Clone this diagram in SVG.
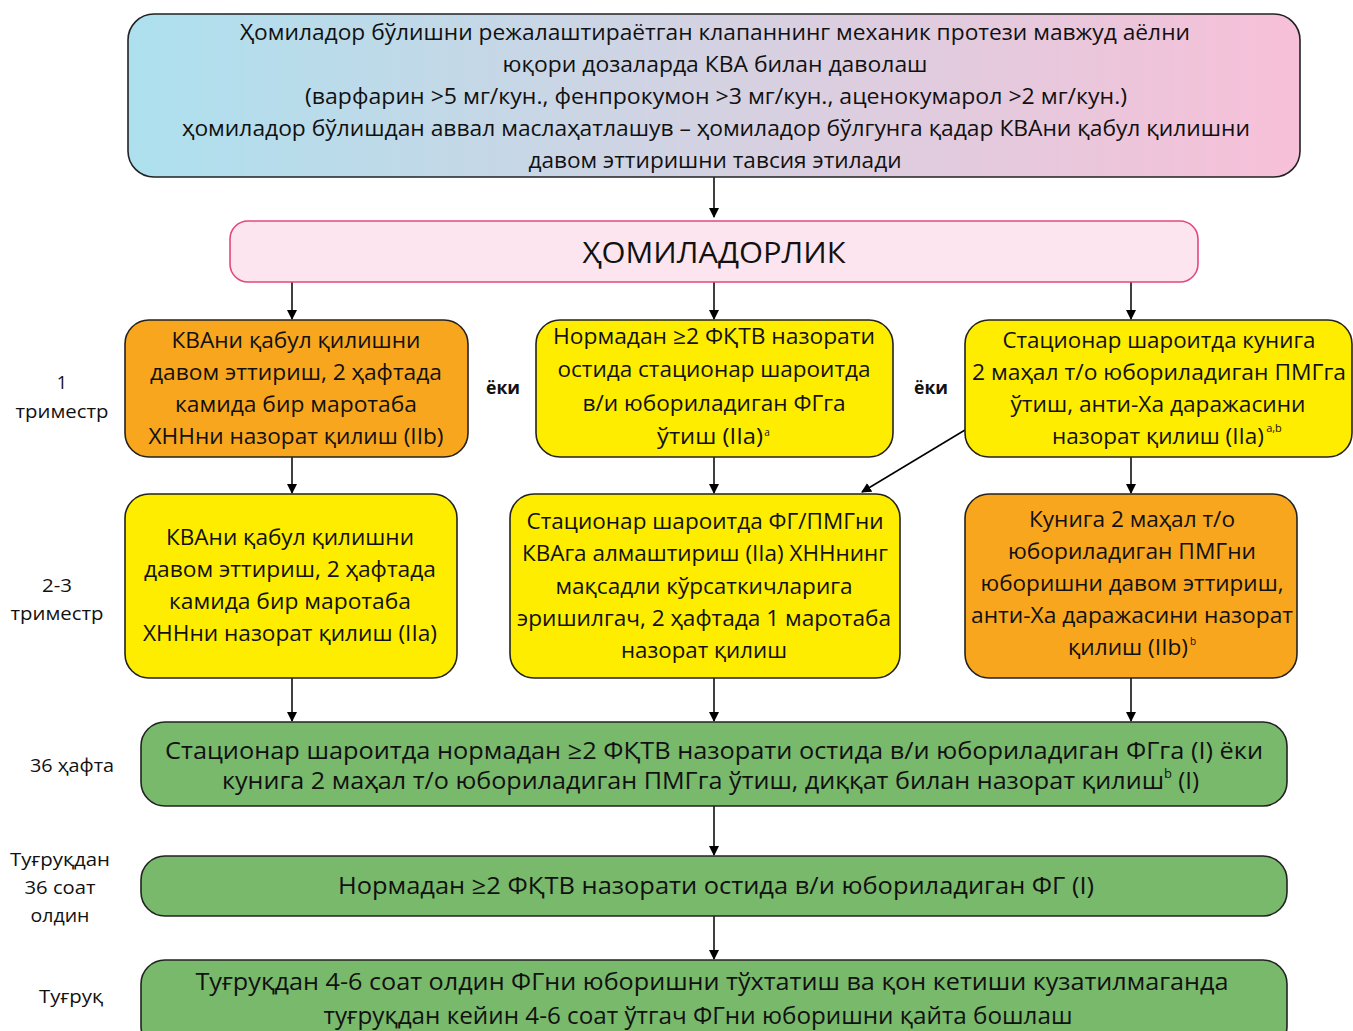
<svg xmlns="http://www.w3.org/2000/svg" width="1353" height="1031" viewBox="0 0 1353 1031">
<defs>
<linearGradient id="g1" x1="0" y1="0" x2="1" y2="0">
<stop offset="0" stop-color="#ade0ee"/>
<stop offset="0.5" stop-color="#d4d2e2"/>
<stop offset="1" stop-color="#f7c0d8"/>
</linearGradient>
<marker id="ah" markerWidth="10" markerHeight="10" refX="9" refY="5" orient="auto" markerUnits="userSpaceOnUse">
<path d="M0,0 L10,5 L0,10 Z" fill="#000"/>
</marker>
<style>
text{font-family:"Open Sans","Noto Sans","Liberation Sans",sans-serif;fill:#111;text-anchor:middle}
.t{font-size:22px}
.h{font-size:21px}
.g{font-size:24px}
.l{font-size:18px}
.s{font-size:12px}
.st{text-anchor:start}
.box{stroke:#222;stroke-width:1.6}
.or{fill:#f8a61e}
.ye{fill:#ffed00}
.gr{fill:#79b96b}
.c{stroke:#000;stroke-width:1.5;fill:none;marker-end:url(#ah)}
</style>
</defs>
<rect width="1353" height="1031" fill="#fff"/>

<g id="connectors">
<line class="c" x1="714" y1="177" x2="714" y2="217"/>
<line class="c" x1="292" y1="282" x2="292" y2="319"/>
<line class="c" x1="714" y1="282" x2="714" y2="319"/>
<line class="c" x1="1131" y1="282" x2="1131" y2="319"/>
<line class="c" x1="292" y1="457" x2="292" y2="493"/>
<line class="c" x1="714" y1="457" x2="714" y2="493"/>
<line class="c" x1="1131" y1="457" x2="1131" y2="493"/>
<line class="c" x1="965" y1="430" x2="862" y2="492"/>
<line class="c" x1="292" y1="678" x2="292" y2="721"/>
<line class="c" x1="714" y1="678" x2="714" y2="721"/>
<line class="c" x1="1131" y1="678" x2="1131" y2="721"/>
<line class="c" x1="714" y1="806" x2="714" y2="855"/>
<line class="c" x1="714" y1="916" x2="714" y2="959"/>
</g>

<g id="top">
<rect class="box" x="128" y="14" width="1172" height="163" rx="26" fill="url(#g1)"/>
<text class="h" x="715" y="40" textLength="950" lengthAdjust="spacingAndGlyphs">Ҳомиладор бўлишни режалаштираётган клапаннинг механик протези мавжуд аёлни</text>
<text class="h" x="715" y="72" textLength="425" lengthAdjust="spacingAndGlyphs">юқори дозаларда КВА билан даволаш</text>
<text class="h" x="716" y="104" textLength="822" lengthAdjust="spacingAndGlyphs">(варфарин &gt;5 мг/кун., фенпрокумон &gt;3 мг/кун., аценокумарол &gt;2 мг/кун.)</text>
<text class="h" x="716" y="136" textLength="1068" lengthAdjust="spacingAndGlyphs">ҳомиладор бўлишдан аввал маслаҳатлашув – ҳомиладор бўлгунга қадар КВАни қабул қилишни</text>
<text class="h" x="715" y="168" textLength="373" lengthAdjust="spacingAndGlyphs">давом эттиришни тавсия этилади</text>
</g>

<g id="pregnancy">
<rect x="230" y="221" width="968" height="61" rx="18" fill="#fde5ef" stroke="#e4477d" stroke-width="1.6"/>
<text x="714" y="263" style="font-size:30px" textLength="263" lengthAdjust="spacingAndGlyphs">ҲОМИЛАДОРЛИК</text>
</g>

<g id="labels">
<text class="l" x="62" y="389">1</text>
<text class="l" x="62" y="418" textLength="93" lengthAdjust="spacingAndGlyphs">триместр</text>
<text class="l" x="57" y="592" textLength="30" lengthAdjust="spacingAndGlyphs">2-3</text>
<text class="l" x="57" y="620" textLength="93" lengthAdjust="spacingAndGlyphs">триместр</text>
<text class="l" x="72" y="772" textLength="84" lengthAdjust="spacingAndGlyphs">36 ҳафта</text>
<text class="l" x="60" y="866" textLength="100" lengthAdjust="spacingAndGlyphs">Туғруқдан</text>
<text class="l" x="60" y="894" textLength="71" lengthAdjust="spacingAndGlyphs">36 соат</text>
<text class="l" x="60" y="922" textLength="59" lengthAdjust="spacingAndGlyphs">олдин</text>
<text class="l" x="71" y="1003" textLength="64" lengthAdjust="spacingAndGlyphs">Туғруқ</text>
<text class="l" x="503" y="394" style="font-weight:bold" textLength="34" lengthAdjust="spacingAndGlyphs">ёки</text>
<text class="l" x="931" y="394" style="font-weight:bold" textLength="34" lengthAdjust="spacingAndGlyphs">ёки</text>
</g>

<g id="r1a">
<rect class="box or" x="125" y="320" width="343" height="137" rx="24"/>
<text class="t" x="296" y="348" textLength="249" lengthAdjust="spacingAndGlyphs">КВАни қабул қилишни</text>
<text class="t" x="296" y="380" textLength="292" lengthAdjust="spacingAndGlyphs">давом эттириш, 2 ҳафтада</text>
<text class="t" x="296" y="412" textLength="242" lengthAdjust="spacingAndGlyphs">камида бир маротаба</text>
<text class="t" x="296" y="444" textLength="295" lengthAdjust="spacingAndGlyphs">ХННни назорат қилиш (IIb)</text>
</g>

<g id="r1b">
<rect class="box ye" x="536" y="320" width="357" height="137" rx="24"/>
<text class="t" x="714" y="344" textLength="322" lengthAdjust="spacingAndGlyphs">Нормадан ≥2 ФҚТВ назорати</text>
<text class="t" x="714" y="377" textLength="313" lengthAdjust="spacingAndGlyphs">остида стационар шароитда</text>
<text class="t" x="714" y="411" textLength="263" lengthAdjust="spacingAndGlyphs">в/и юбориладиган ФГга</text>
<text class="t" x="710" y="444" textLength="106" lengthAdjust="spacingAndGlyphs">ўтиш (IIa)</text>
<text class="s" x="767" y="436" style="font-size:10px">a</text>
</g>

<g id="r1c">
<rect class="box ye" x="965" y="320" width="387" height="137" rx="24"/>
<text class="t" x="1159" y="348" textLength="313" lengthAdjust="spacingAndGlyphs">Стационар шароитда кунига</text>
<text class="t" x="1159" y="380" textLength="374" lengthAdjust="spacingAndGlyphs">2 маҳал т/о юбориладиган ПМГга</text>
<text class="t" x="1158" y="412" textLength="295" lengthAdjust="spacingAndGlyphs">ўтиш, анти-Ха даражасини</text>
<text class="t" x="1158" y="444" textLength="212" lengthAdjust="spacingAndGlyphs">назорат қилиш (IIa)</text>
<text class="s" x="1274" y="432" style="font-size:11px">a,b</text>
</g>

<g id="r2a">
<rect class="box ye" x="125" y="494" width="332" height="184" rx="24"/>
<text class="t" x="290" y="545" textLength="248" lengthAdjust="spacingAndGlyphs">КВАни қабул қилишни</text>
<text class="t" x="290" y="577" textLength="292" lengthAdjust="spacingAndGlyphs">давом эттириш, 2 ҳафтада</text>
<text class="t" x="290" y="609" textLength="242" lengthAdjust="spacingAndGlyphs">камида бир маротаба</text>
<text class="t" x="290" y="641" textLength="294" lengthAdjust="spacingAndGlyphs">ХННни назорат қилиш (IIa)</text>
</g>

<g id="r2b">
<rect class="box ye" x="510" y="494" width="390" height="184" rx="24"/>
<text class="t" x="705" y="529" textLength="357" lengthAdjust="spacingAndGlyphs">Стационар шароитда ФГ/ПМГни</text>
<text class="t" x="705" y="561" textLength="366" lengthAdjust="spacingAndGlyphs">КВАга алмаштириш (IIa) ХННнинг</text>
<text class="t" x="704" y="594" textLength="297" lengthAdjust="spacingAndGlyphs">мақсадли кўрсаткичларига</text>
<text class="t" x="704" y="626" textLength="374" lengthAdjust="spacingAndGlyphs">эришилгач, 2 ҳафтада 1 маротаба</text>
<text class="t" x="704" y="658" textLength="166" lengthAdjust="spacingAndGlyphs">назорат қилиш</text>
</g>

<g id="r2c">
<rect class="box or" x="965" y="494" width="332" height="184" rx="24"/>
<text class="t" x="1132" y="527" textLength="206" lengthAdjust="spacingAndGlyphs">Кунига 2 маҳал т/о</text>
<text class="t" x="1132" y="559" textLength="248" lengthAdjust="spacingAndGlyphs">юбориладиган ПМГни</text>
<text class="t" x="1132" y="591" textLength="303" lengthAdjust="spacingAndGlyphs">юборишни давом эттириш,</text>
<text class="t" x="1132" y="623" textLength="322" lengthAdjust="spacingAndGlyphs">анти-Ха даражасини назорат</text>
<text class="t" x="1128" y="655" textLength="120" lengthAdjust="spacingAndGlyphs">қилиш (IIb)</text>
<text class="s" x="1193" y="645" style="font-size:10px">b</text>
</g>

<g id="w36">
<rect class="box gr" x="141" y="722" width="1146" height="84" rx="24"/>
<text class="g" x="714" y="759" textLength="1098" lengthAdjust="spacingAndGlyphs">Стационар шароитда нормадан ≥2 ФҚТВ назорати остида в/и юбориладиган ФГга (I) ёки</text>
<text class="g st" x="222" y="789"><tspan textLength="942" lengthAdjust="spacingAndGlyphs">кунига 2 маҳал т/о юбориладиган ПМГга ўтиш, диққат билан назорат қилиш</tspan><tspan style="font-size:13px" dy="-11">b</tspan><tspan dy="11"> (I)</tspan></text>
</g>

<g id="h36">
<rect class="box gr" x="141" y="856" width="1146" height="60" rx="24"/>
<text class="g" x="716" y="894" textLength="756" lengthAdjust="spacingAndGlyphs">Нормадан ≥2 ФҚТВ назорати остида в/и юбориладиган ФГ (I)</text>
</g>

<g id="birth">
<rect class="box gr" x="141" y="960" width="1146" height="90" rx="24"/>
<text class="g" x="712" y="990" textLength="1033" lengthAdjust="spacingAndGlyphs">Туғруқдан 4-6 соат олдин ФГни юборишни тўхтатиш ва қон кетиши кузатилмаганда</text>
<text class="g" x="698" y="1024" textLength="749" lengthAdjust="spacingAndGlyphs">туғруқдан кейин 4-6 соат ўтгач ФГни юборишни қайта бошлаш</text>
</g>
</svg>
